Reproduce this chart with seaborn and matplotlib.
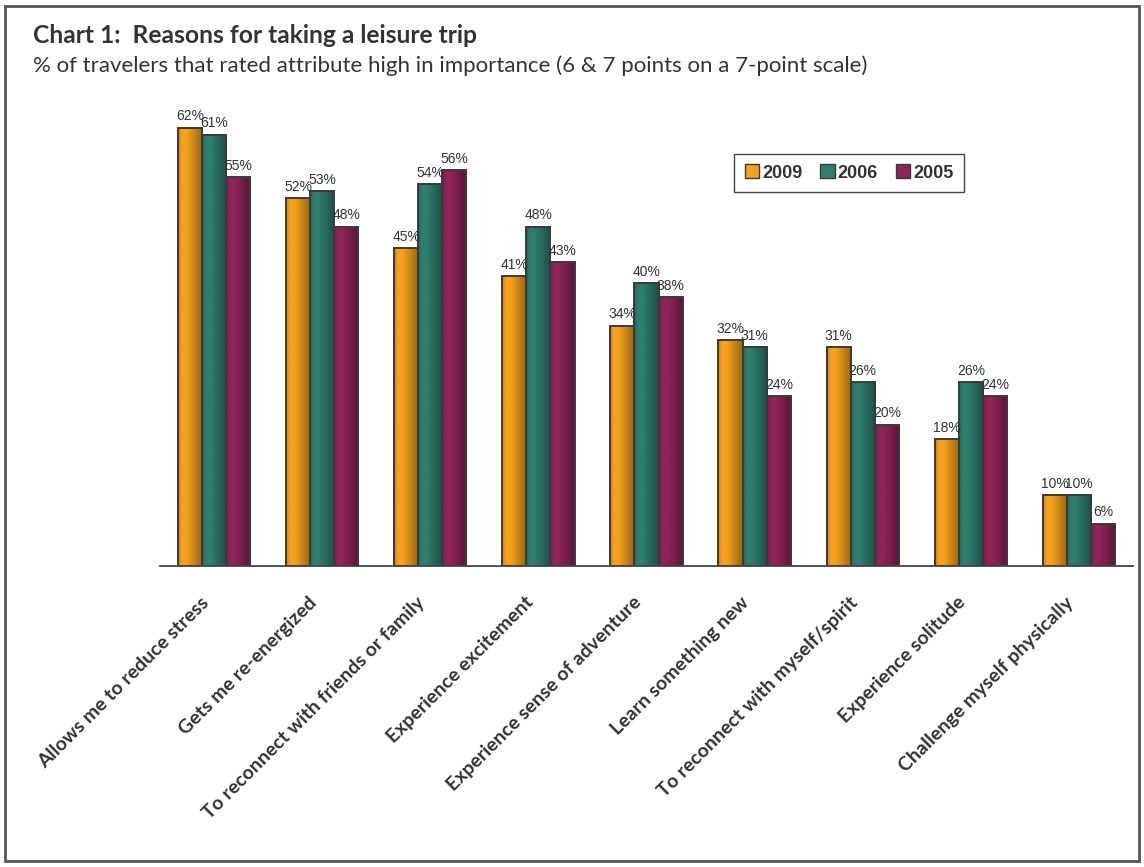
import matplotlib
matplotlib.use("Agg")
import matplotlib.pyplot as plt
import matplotlib.transforms as mtransforms
import numpy as np
import pandas as pd
import seaborn as sns
from matplotlib.colors import to_rgb
from matplotlib.patches import Patch, Rectangle

# Data
reasons = [
    "Allows me to reduce stress",
    "Gets me re-energized",
    "To reconnect with friends or family",
    "Experience excitement",
    "Experience sense of adventure",
    "Learn something new",
    "To reconnect with myself/spirit",
    "Experience solitude",
    "Challenge myself physically",
]
years = ["2009", "2006", "2005"]
pct_2009 = [62, 52, 45, 41, 34, 32, 31, 18, 10]
pct_2006 = [61, 53, 54, 48, 40, 31, 26, 26, 10]
pct_2005 = [55, 48, 56, 43, 38, 24, 20, 24, 6]

colors = {"2009": "#F5A21D", "2006": "#2F7E70", "2005": "#8E2459"}

df = pd.DataFrame({
    "reason": reasons * 3,
    "year": [y for y in years for _ in reasons],
    "pct": pct_2009 + pct_2006 + pct_2005,
})

sns.set_theme(style="white")
plt.rcParams["font.family"] = ["Lato", "DejaVu Sans"]

W, H = 1144, 867
fig = plt.figure(figsize=(W / 100, H / 100), dpi=100)
ax = fig.add_axes([160 / W, (H - 566) / H, 973 / W, 495 / H])

sns.barplot(data=df, x="reason", y="pct", hue="year", hue_order=years,
            palette=colors, width=0.67, gap=0, edgecolor="#3a3a3a",
            linewidth=1.4, ax=ax, legend=False)


def shade(base):
    # left-to-right gradient: slightly dark edge, bright, then darker
    r, g, b = to_rgb(base)
    t = np.linspace(0, 1, 64)
    f = np.interp(t, [0, 0.15, 0.35, 1.0], [0.8, 1.0, 1.0, 0.62])
    img = np.stack([np.clip(r * f, 0, 1), np.clip(g * f, 0, 1),
                    np.clip(b * f, 0, 1)], axis=-1)
    return img[None, :, :]


for cont, yr in zip(ax.containers, years):
    for bar in cont:
        x0, y0 = bar.get_x(), bar.get_y()
        w, h = bar.get_width(), bar.get_height()
        im = ax.imshow(shade(colors[yr]), extent=[x0, x0 + w, y0, y0 + h],
                       aspect="auto", zorder=bar.get_zorder() + 0.1,
                       interpolation="bilinear")
        im.set_clip_path(bar)
        bar.set_zorder(bar.get_zorder() + 0.2)
        bar.set_facecolor("none")
    ax.bar_label(cont, fmt="%d%%", padding=3, fontsize=10, color="#333333",
                 family=["Liberation Sans"])

ax.set_xlim(-0.5, len(reasons) - 0.5)
ax.set_ylim(0, 70)
ax.set_xlabel("")
ax.set_ylabel("")
ax.set_yticks([])
for side in ["top", "right", "left"]:
    ax.spines[side].set_visible(False)
ax.spines["bottom"].set_color("#444444")
ax.spines["bottom"].set_linewidth(1.3)

ax.set_xticks(range(len(reasons)))
ax.set_xticklabels(reasons, rotation=45, ha="right", rotation_mode="anchor",
                   fontsize=14, fontweight="bold", color="#333333")
ax.tick_params(axis="x", which="major", length=0, pad=20)
shift = mtransforms.ScaledTranslation(-14 / 100, 0, fig.dpi_scale_trans)
for lab in ax.get_xticklabels():
    lab.set_transform(lab.get_transform() + shift)
ax.set_xticks(np.arange(-0.5, len(reasons), 1), minor=True)
ax.tick_params(axis="x", which="minor", length=8, width=1.3,
               color="#444444", direction="out")

handles = [Patch(facecolor=colors[y], edgecolor="#3a3a3a", label=y) for y in years]
leg = fig.legend(handles=handles, ncol=3, loc="center",
                 bbox_to_anchor=(849 / W, 1 - 173 / H), frameon=True,
                 fancybox=False, framealpha=1, edgecolor="#444444",
                 handlelength=0.8, handleheight=0.8, handletextpad=0.15,
                 columnspacing=1.0, borderpad=0.6,
                 prop={"family": "Liberation Sans", "weight": "bold", "size": 13})
for t in leg.get_texts():
    t.set_color("#333333")

fig.text(33 / W, 1 - 43 / H, "Chart 1:  Reasons for taking a leisure trip",
         fontsize=17.7, fontweight="bold", color="#333333", va="baseline")
fig.text(33 / W, 1 - 72 / H,
         "% of travelers that rated attribute high in importance "
         "(6 & 7 points on a 7-point scale)",
         fontsize=16, color="#333333", va="baseline")

fig.patches.append(Rectangle((5 / W, 6 / H), 1134 / W, 855 / H,
                             transform=fig.transFigure, fill=False,
                             edgecolor="#555555", linewidth=2))

fig.savefig("out.png", dpi=100)
